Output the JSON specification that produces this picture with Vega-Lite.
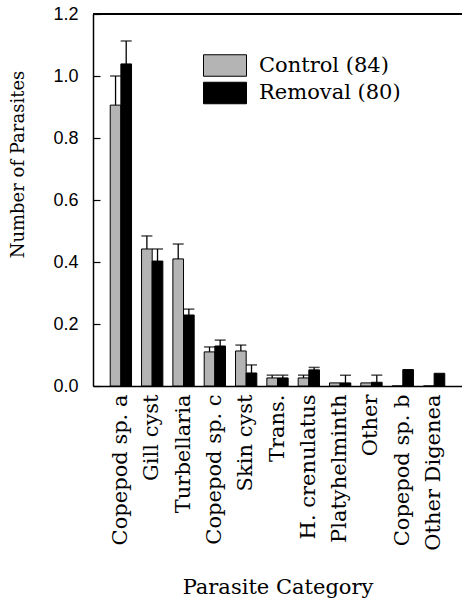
{
  "$schema": "https://vega.github.io/schema/vega-lite/v6.json",
  "width": 369,
  "height": 372,
  "autosize": {"type": "none"},
  "padding": {"left": 93, "top": 14, "right": 0, "bottom": 215},
  "background": "white",
  "config": {"view": {"stroke": null}, "font": "DejaVu Serif"},
  "datasets": {
    "bars": [
      {"category": "Copepod sp. a", "group": "Control (84)", "value": 0.906, "upper": 1.0},
      {"category": "Copepod sp. a", "group": "Removal (80)", "value": 1.039, "upper": 1.113},
      {"category": "Gill cyst", "group": "Control (84)", "value": 0.442, "upper": 0.484},
      {"category": "Gill cyst", "group": "Removal (80)", "value": 0.403, "upper": 0.442},
      {"category": "Turbellaria", "group": "Control (84)", "value": 0.41, "upper": 0.458},
      {"category": "Turbellaria", "group": "Removal (80)", "value": 0.229, "upper": 0.248},
      {"category": "Copepod sp. c", "group": "Control (84)", "value": 0.11, "upper": 0.126},
      {"category": "Copepod sp. c", "group": "Removal (80)", "value": 0.129, "upper": 0.148},
      {"category": "Skin cyst", "group": "Control (84)", "value": 0.113, "upper": 0.132},
      {"category": "Skin cyst", "group": "Removal (80)", "value": 0.042, "upper": 0.068},
      {"category": "Trans.", "group": "Control (84)", "value": 0.026, "upper": 0.035},
      {"category": "Trans.", "group": "Removal (80)", "value": 0.026, "upper": 0.035},
      {"category": "H. crenulatus", "group": "Control (84)", "value": 0.026, "upper": 0.035},
      {"category": "H. crenulatus", "group": "Removal (80)", "value": 0.052, "upper": 0.06},
      {"category": "Platyhelminth", "group": "Control (84)", "value": 0.01, "upper": null},
      {"category": "Platyhelminth", "group": "Removal (80)", "value": 0.01, "upper": 0.035},
      {"category": "Other", "group": "Control (84)", "value": 0.01, "upper": null},
      {"category": "Other", "group": "Removal (80)", "value": 0.012, "upper": 0.035},
      {"category": "Copepod sp. b", "group": "Control (84)", "value": 0, "upper": null},
      {"category": "Copepod sp. b", "group": "Removal (80)", "value": 0.053, "upper": null},
      {"category": "Other Digenea", "group": "Control (84)", "value": 0, "upper": null},
      {"category": "Other Digenea", "group": "Removal (80)", "value": 0.041, "upper": null}
    ]
  },
  "data": {"name": "bars"},
  "layer": [
    {
      "mark": {"type": "bar", "stroke": "black", "strokeWidth": 1},
      "encoding": {
        "x": {
          "field": "category", "type": "nominal", "sort": null,
          "scale": {"paddingInner": 0.32, "paddingOuter": 0.55},
          "axis": {
            "title": "Parasite Category", "labelAngle": -90, "ticks": false,
            "domainColor": "black", "domainWidth": 1.5,
            "labelFont": "DejaVu Serif", "labelFontSize": 21, "labelColor": "black",
            "labelPadding": 8, "labelLimit": 300,
            "titleFont": "DejaVu Serif", "titleFontSize": 21, "titleFontWeight": "normal",
            "titleColor": "black", "titleY": 207, "titleBaseline": "alphabetic"
          }
        },
        "xOffset": {"field": "group", "type": "nominal", "scale": {"domain": ["Control (84)", "Removal (80)"]}},
        "y": {
          "field": "value", "type": "quantitative",
          "scale": {"domain": [0, 1.2], "nice": false},
          "axis": {
            "title": "Number of Parasites", "values": [0, 0.2, 0.4, 0.6, 0.8, 1.0, 1.2],
            "format": ".1f", "grid": false,
            "domainColor": "black", "domainWidth": 1.5,
            "tickColor": "black", "tickSize": -7, "tickWidth": 1.2,
            "labelFont": "Liberation Sans", "labelFontSize": 18, "labelColor": "black",
            "labelPadding": 22,
            "titleFont": "DejaVu Serif", "titleFontSize": 18, "titleFontWeight": "normal",
            "titleColor": "black", "titleX": -70, "titleY": 150, "titleBaseline": "alphabetic"
          }
        },
        "fill": {
          "field": "group", "type": "nominal",
          "scale": {"domain": ["Control (84)", "Removal (80)"], "range": ["#b4b4b4", "black"]},
          "legend": {
            "title": null, "orient": "none", "legendX": 121.5, "legendY": 41,
            "symbolType": "M-4.3,-2.15H4.3V2.15H-4.3Z", "symbolSize": 100,
            "symbolStrokeColor": "black", "symbolStrokeWidth": 1,
            "labelFont": "DejaVu Serif", "labelFontSize": 21, "labelColor": "black",
            "labelOffset": 23.5, "padding": 0, "rowPadding": 0.5
          }
        }
      }
    },
    {
      "transform": [{"filter": "datum.upper != null"}],
      "mark": {"type": "rule", "strokeWidth": 1.3, "color": "black"},
      "encoding": {
        "x": {"field": "category", "type": "nominal", "sort": null},
        "xOffset": {"field": "group", "type": "nominal"},
        "y": {"field": "value", "type": "quantitative"},
        "y2": {"field": "upper"}
      }
    },
    {
      "transform": [{"filter": "datum.upper != null"}],
      "mark": {"type": "tick", "thickness": 1.5, "size": 11, "color": "black"},
      "encoding": {
        "x": {"field": "category", "type": "nominal", "sort": null},
        "xOffset": {"field": "group", "type": "nominal"},
        "y": {"field": "upper", "type": "quantitative"}
      }
    },
    {
      "mark": {"type": "rule", "strokeWidth": 1.5, "color": "black"},
      "encoding": {"y": {"datum": 1.2}}
    }
  ]
}
